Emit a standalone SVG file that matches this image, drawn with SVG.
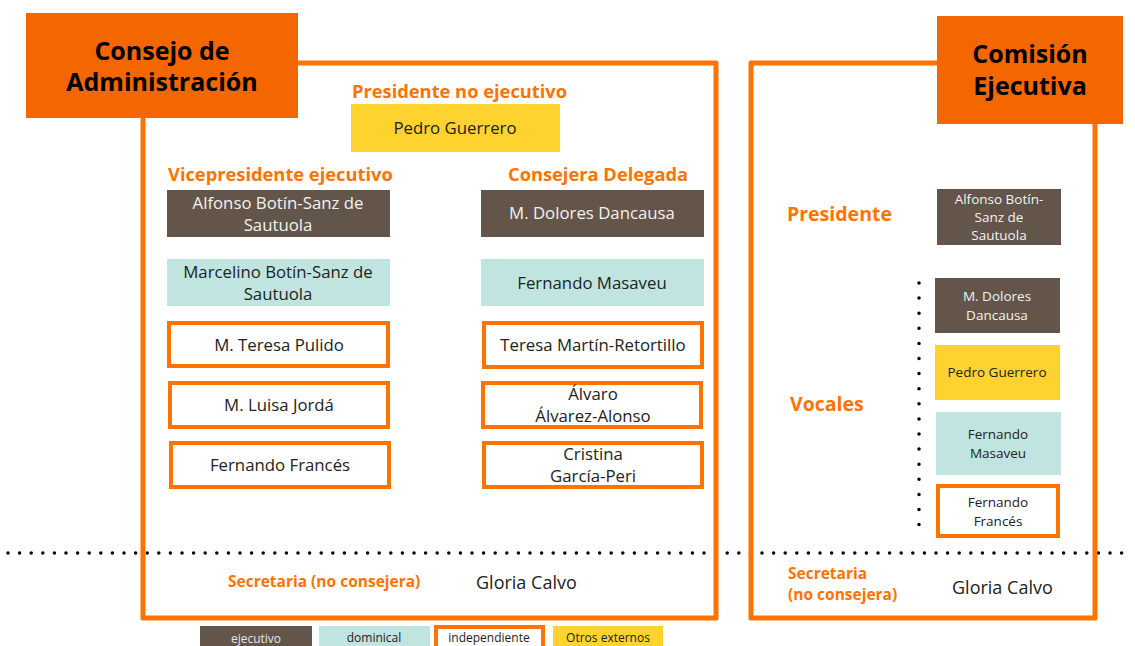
<svg xmlns="http://www.w3.org/2000/svg" width="1135" height="646" viewBox="0 0 1135 646">
<style>
text{font-family:"Open Sans","Liberation Sans",sans-serif}
.hdr{fill:#F36600}
.ht{font-weight:700;font-size:25px;fill:#000;text-anchor:middle}
.frame{fill:none;stroke:#FF7300;stroke-width:5;stroke-linejoin:round}
.lbl{font-weight:700;fill:#FF7300;font-size:18.3px}
.ex{fill:#63554A}
.do{fill:#C0E5E0}
.ot{fill:#FED330}
.in{fill:#fff;stroke:#FF7300;stroke-width:4}
.n{font-size:16.8px;text-anchor:middle;fill:#222}
.nw{font-size:16.8px;text-anchor:middle;fill:#F2F2F2}
.s{font-size:13.5px;text-anchor:middle;fill:#222}
.sw{font-size:13.5px;text-anchor:middle;fill:#F2F2F2}
.lg{font-size:12px;text-anchor:middle;fill:#222}
.sec{font-weight:700;fill:#FF7300;font-size:15.5px}
.dots{stroke:#000;stroke-width:3.5;stroke-linecap:round;fill:none}
</style>
<g id="connectors">
<path class="dots" d="M8 553 H1132" stroke-dasharray="0 11.6"/>
<path class="dots" d="M919 283 V525" stroke-dasharray="0 15.1"/>
</g>
<g id="consejo">
<path class="frame" d="M296 63 H716 V618 H143 V116"/>
<rect class="hdr" x="26" y="13" width="272" height="105"/>
<text class="ht" x="162" y="60">Consejo de</text>
<text class="ht" x="162" y="91">Administración</text>
</g>
<g id="comision">
<path class="frame" d="M939 63 H751 V618 H1095 V122"/>
<rect class="hdr" x="937" y="16" width="186" height="108"/>
<text class="ht" x="1030" y="63">Comisión</text>
<text class="ht" x="1030" y="95">Ejecutiva</text>
</g>
<g id="presidente-no-ejecutivo">
<text class="lbl" x="352" y="98">Presidente no ejecutivo</text>
<rect class="ot" x="351" y="104" width="209" height="48"/>
<text class="n" x="455" y="134">Pedro Guerrero</text>
</g>
<g id="vicepresidente">
<text class="lbl" x="168" y="181">Vicepresidente ejecutivo</text>
</g>
<g id="consejera-delegada">
<text class="lbl" x="508" y="181">Consejera Delegada</text>
</g>
<g id="n-alfonso">
<rect class="ex" x="167" y="190" width="223" height="47"/>
<text class="nw" x="278" y="209">Alfonso Botín-Sanz de</text>
<text class="nw" x="278" y="231">Sautuola</text>
</g>
<g id="n-marcelino">
<rect class="do" x="167" y="259" width="223" height="47"/>
<text class="n" x="278" y="278">Marcelino Botín-Sanz de</text>
<text class="n" x="278" y="300">Sautuola</text>
</g>
<g id="n-pulido">
<rect class="in" x="169" y="323" width="219" height="43"/>
<text class="n" x="279" y="351">M. Teresa Pulido</text>
</g>
<g id="n-jorda">
<rect class="in" x="170" y="383" width="218" height="44"/>
<text class="n" x="279" y="411">M. Luisa Jordá</text>
</g>
<g id="n-frances">
<rect class="in" x="171" y="443" width="218" height="44"/>
<text class="n" x="280" y="471">Fernando Francés</text>
</g>
<g id="n-dancausa">
<rect class="ex" x="481" y="190" width="223" height="47"/>
<text class="nw" x="592" y="219">M. Dolores Dancausa</text>
</g>
<g id="n-masaveu">
<rect class="do" x="481" y="259" width="223" height="47"/>
<text class="n" x="592" y="289">Fernando Masaveu</text>
</g>
<g id="n-retortillo">
<rect class="in" x="484" y="323" width="218" height="44"/>
<text class="n" x="593" y="351">Teresa Martín-Retortillo</text>
</g>
<g id="n-alvarez">
<rect class="in" x="483" y="383" width="218" height="44"/>
<text class="n" x="593" y="400">Álvaro</text>
<text class="n" x="593" y="422">Álvarez-Alonso</text>
</g>
<g id="n-garcia">
<rect class="in" x="484" y="443" width="218" height="44"/>
<text class="n" x="593" y="460">Cristina</text>
<text class="n" x="593" y="482">García-Peri</text>
</g>
<g id="secretaria-consejo">
<text class="sec" x="228" y="587">Secretaria (no consejera)</text>
<text x="476" y="589" style="font-size:18px;fill:#222">Gloria Calvo</text>
</g>
<g id="ce-presidente">
<text class="lbl" x="787" y="221" style="font-size:19.5px">Presidente</text>
<rect class="ex" x="937" y="189" width="124" height="56"/>
<text class="sw" x="999" y="204">Alfonso Botín-</text>
<text class="sw" x="999" y="222">Sanz de</text>
<text class="sw" x="999" y="240">Sautuola</text>
</g>
<g id="ce-vocales">
<text class="lbl" x="790" y="411" style="font-size:19.5px">Vocales</text>
</g>
<g id="ce-dancausa">
<rect class="ex" x="935" y="278" width="125" height="55"/>
<text class="sw" x="997" y="301">M. Dolores</text>
<text class="sw" x="997" y="320">Dancausa</text>
</g>
<g id="ce-guerrero">
<rect class="ot" x="935" y="345" width="125" height="55"/>
<text class="s" x="997" y="377">Pedro Guerrero</text>
</g>
<g id="ce-masaveu">
<rect class="do" x="936" y="412" width="125" height="63"/>
<text class="s" x="998" y="439">Fernando</text>
<text class="s" x="998" y="458">Masaveu</text>
</g>
<g id="ce-frances">
<rect class="in" x="938" y="486" width="120" height="50"/>
<text class="s" x="998" y="507">Fernando</text>
<text class="s" x="998" y="526">Francés</text>
</g>
<g id="secretaria-comision">
<text class="sec" x="788" y="579">Secretaria</text>
<text class="sec" x="788" y="600">(no consejera)</text>
<text x="952" y="594" style="font-size:18px;fill:#222">Gloria Calvo</text>
</g>
<g id="legend">
<rect class="ex" x="200" y="626" width="112" height="24"/>
<text class="lg" x="256" y="643" style="fill:#E6E6E6">ejecutivo</text>
<rect class="do" x="319" y="626" width="111" height="24"/>
<text class="lg" x="374" y="642">dominical</text>
<rect class="in" x="436" y="627" width="107" height="24"/>
<text class="lg" x="489" y="642">independiente</text>
<rect class="ot" x="553" y="626" width="110" height="24"/>
<text class="lg" x="608" y="642">Otros externos</text>
</g>
</svg>
